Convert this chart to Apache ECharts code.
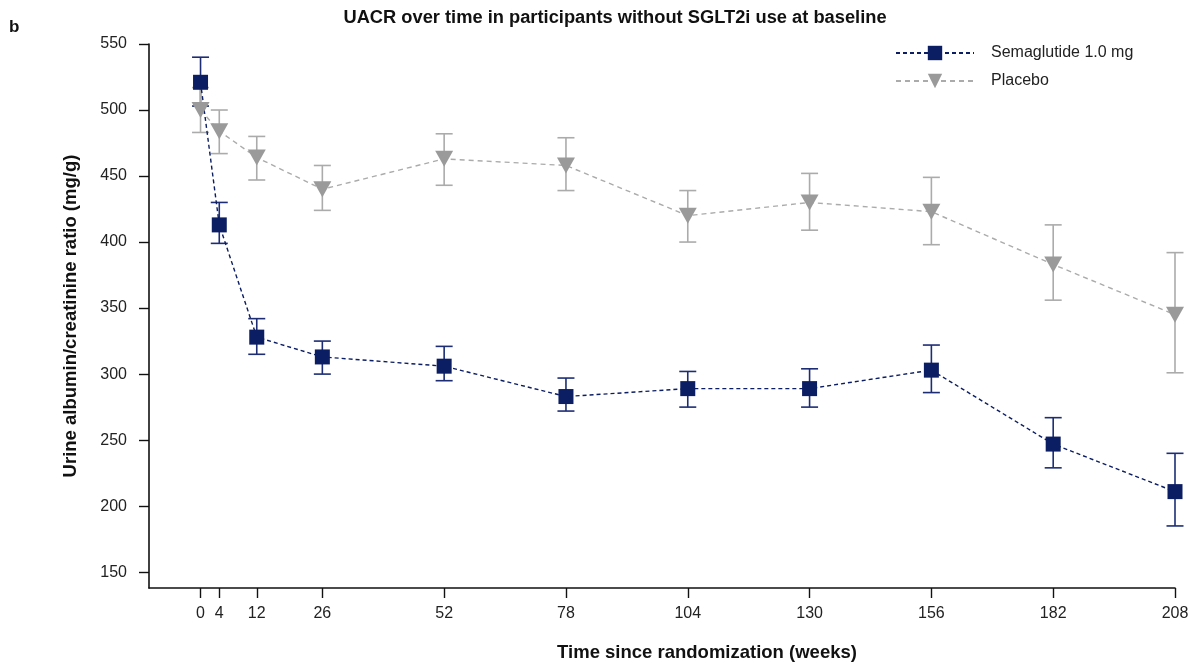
<!DOCTYPE html>
<html>
<head>
<meta charset="utf-8">
<script src="https://cdn.jsdelivr.net/npm/echarts@6/dist/echarts.min.js"></script>
<style>
  html, body { margin: 0; padding: 0; background: #fff; }
  #chart { width: 1192px; height: 663px; }
</style>
</head>
<body>
<div id="chart"></div>
<script>
// Visit weeks
const weeks = [0, 4, 12, 26, 52, 78, 104, 130, 156, 182, 208];
const xTicks = [0, 4, 12, 26, 52, 78, 104, 130, 156, 182, 208];
const yTicks = [150, 200, 250, 300, 350, 400, 450, 500, 550];

// Semaglutide 1.0 mg: estimated UACR with 95% CI (mg/g)
const semaMean = [521, 413, 328, 313, 306, 283, 289, 289, 303, 247, 211];
const semaLow  = [503, 399, 315, 300, 295, 272, 275, 275, 286, 229, 185];
const semaHigh = [540, 430, 342, 325, 321, 297, 302, 304, 322, 267, 240];

// Placebo: estimated UACR with 95% CI (mg/g)
const placMean = [500, 484, 464, 440, 463, 458, 420, 430, 423, 383, 345];
const placLow  = [483, 467, 447, 424, 443, 439, 400, 409, 398, 356, 301];
const placHigh = [517, 500, 480, 458, 482, 479, 439, 452, 449, 413, 392];

const NAVY = '#0b1d63';
const NAVY_BAR = '#1c2d75';
const GREY = '#9a9a9a';
const GREY_BAR = '#ababab';
const FONT = '"Liberation Sans", Arial, sans-serif';

function pairs(xs, ys) { return xs.map((x, i) => [x, ys[i]]); }
function ciRows(xs, lo, hi) { return xs.map((x, i) => [x, lo[i], hi[i]]); }

function errorBar(color) {
  return function (params, api) {
    const x = api.value(0);
    const lo = api.coord([x, api.value(1)]);
    const hi = api.coord([x, api.value(2)]);
    const half = 8.5;
    const style = { stroke: color, lineWidth: 1.6 };
    return {
      type: 'group',
      children: [
        { type: 'line', shape: { x1: lo[0], y1: lo[1], x2: hi[0], y2: hi[1] }, style },
        { type: 'line', shape: { x1: hi[0] - half, y1: hi[1], x2: hi[0] + half, y2: hi[1] }, style },
        { type: 'line', shape: { x1: lo[0] - half, y1: lo[1], x2: lo[0] + half, y2: lo[1] }, style }
      ]
    };
  };
}

const chart = echarts.init(document.getElementById('chart'), null, { renderer: 'canvas' });

chart.setOption({
  backgroundColor: '#ffffff',
  animation: false,
  textStyle: { fontFamily: FONT },
  graphic: [
    {
      type: 'text', x: 615, y: 18,
      style: { text: 'UACR over time in participants without SGLT2i use at baseline',
               font: 'bold 18.3px ' + FONT, fill: '#111', align: 'center', verticalAlign: 'middle' }
    },
    { type: 'text', x: 9, y: 27, style: { text: 'b', font: 'bold 17px ' + FONT, fill: '#111', verticalAlign: 'middle' } },
    {
      type: 'text', x: 71, y: 316, rotation: Math.PI / 2,
      style: { text: 'Urine albumin/creatinine ratio (mg/g)', font: 'bold 18.5px ' + FONT, fill: '#111',
               align: 'center', verticalAlign: 'middle' }
    },
    {
      type: 'text', x: 707, y: 653,
      style: { text: 'Time since randomization (weeks)', font: 'bold 18.5px ' + FONT, fill: '#111',
               align: 'center', verticalAlign: 'middle' }
    }
  ],
  legend: {
    orient: 'vertical',
    left: 890,
    top: 40,
    itemWidth: 78,
    itemHeight: 18,
    itemGap: 12,
    textStyle: { fontFamily: FONT, fontSize: 16, color: '#222', padding: [0, 0, 0, 12] },
    data: ['Semaglutide 1.0 mg', 'Placebo']
  },
  grid: { left: 149, right: 17, top: 44, bottom: 75, containLabel: false },
  xAxis: {
    type: 'value',
    min: -11,
    max: 208,
    splitLine: { show: false },
    axisLine: { show: true, onZero: false, lineStyle: { color: '#111', width: 1.6 } },
    axisTick: { show: true, customValues: xTicks, length: 10, lineStyle: { color: '#111', width: 1.4 } },
    axisLabel: { customValues: xTicks, margin: 18, fontSize: 16, color: '#222', fontFamily: FONT }
  },
  yAxis: {
    type: 'value',
    min: 138,
    max: 550,
    splitLine: { show: false },
    axisLine: { show: true, onZero: false, lineStyle: { color: '#111', width: 1.6 } },
    axisTick: { show: true, customValues: yTicks, length: 10, lineStyle: { color: '#111', width: 1.4 } },
    axisLabel: { customValues: yTicks, margin: 22, fontSize: 16, color: '#222', fontFamily: FONT }
  },
  series: [
    {
      name: 'Semaglutide 1.0 mg',
      type: 'line',
      data: pairs(weeks, semaMean),
      symbol: 'rect',
      symbolSize: 15,
      z: 3,
      itemStyle: { color: NAVY },
      lineStyle: { color: NAVY, width: 1.4, type: [4, 3] }
    },
    {
      name: 'Placebo',
      type: 'line',
      data: pairs(weeks, placMean),
      symbol: 'triangle',
      symbolSize: [18, 16],
      symbolRotate: 180,
      z: 4,
      itemStyle: { color: GREY },
      lineStyle: { color: GREY_BAR, width: 1.4, type: [5, 4] }
    },
    {
      name: 'Semaglutide CI',
      type: 'custom',
      data: ciRows(weeks, semaLow, semaHigh),
      renderItem: errorBar(NAVY_BAR),
      encode: { x: 0, y: [1, 2] },
      z: 2,
      silent: true
    },
    {
      name: 'Placebo CI',
      type: 'custom',
      data: ciRows(weeks, placLow, placHigh),
      renderItem: errorBar(GREY_BAR),
      encode: { x: 0, y: [1, 2] },
      z: 2,
      silent: true
    }
  ]
});
</script>
</body>
</html>
